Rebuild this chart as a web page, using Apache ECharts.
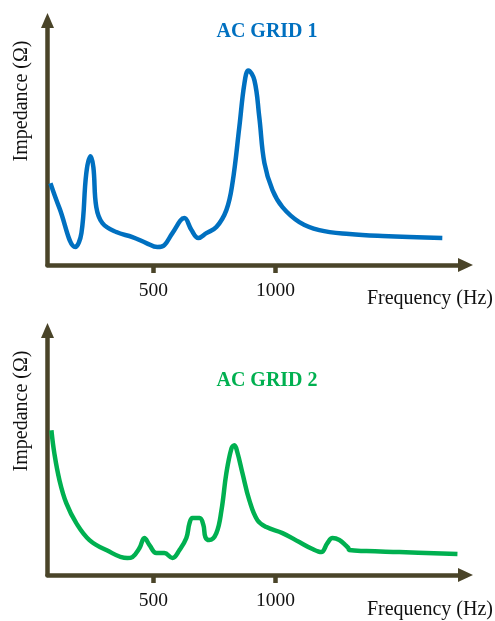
<!DOCTYPE html>
<html>
<head>
<meta charset="utf-8">
<script src="https://cdn.jsdelivr.net/npm/echarts@6/dist/echarts.min.js"></script>
<style>html,body{margin:0;padding:0;background:#fff}#c{width:495px;height:621px}</style>
</head>
<body>
<div id="c"></div>
<script>
// Chart 1: AC GRID 1 (frequency in Hz, impedance in arbitrary units)
var freq1 = [78,115,180,205,225,242,254,266,291,348,414,471,516,545,578,627,656,684,717,758,799,824,852,873,889,914,934,955,988,1029,1098,1180,1303,1438,1684];
var imp1  = [8.2,5.7,1.8,3.2,9.2,10.9,9.8,5.8,4.2,3.3,2.8,2.2,1.8,2.0,3.2,4.7,3.5,2.7,3.2,3.8,5.5,8.2,13.8,18.2,19.5,18.5,14.8,10.2,7.5,5.8,4.3,3.5,3.1,2.9,2.7];
// Chart 2: AC GRID 2
var freq2 = [82,94,115,143,184,238,307,393,414,443,463,484,512,545,578,607,635,648,660,689,705,713,729,758,779,799,820,832,844,865,893,926,963,1029,1098,1152,1188,1213,1234,1262,1291,1299,1302,1373,1508,1746];
var imp2  = [14.5,12.2,9.5,7.2,5.2,3.5,2.5,1.7,1.8,2.7,3.7,3.0,2.2,2.2,1.7,2.5,3.7,5.2,5.7,5.7,5.0,3.8,3.5,4.2,6.5,10.2,12.7,13.0,12.3,10.2,7.5,5.5,4.8,4.2,3.3,2.6,2.3,3.2,3.7,3.5,2.9,2.7,2.5,2.4,2.3,2.1];
var xTicks = [500, 1000];
var titles = ['AC GRID 1', 'AC GRID 2'];
var xName = 'Frequency (Hz)';
var yName = 'Impedance (Ω)';

var AX = '#4a4429';
var FONT = '"Liberation Serif", "Times New Roman", serif';

function pairs(xs, ys){ return xs.map(function(x,i){ return [x, ys[i]]; }); }

function xAxisOf(gi){
  return {
    type:'value', gridIndex:gi, min:66, max:1779,
    axisLine:{show:true, symbol:['none','triangle'], symbolSize:[14,15], lineStyle:{color:AX, width:4.5}},
    axisTick:{show:true, customValues:xTicks, length:8, lineStyle:{color:AX, width:4.5}},
    axisLabel:{show:true, customValues:xTicks, margin:16, color:'#111', fontFamily:FONT, fontSize:19.5,
               formatter:function(v){ return String(v); }},
    splitLine:{show:false}
  };
}
function yAxisOf(gi){
  return {
    type:'value', gridIndex:gi, min:0, max:24.5,
    axisLine:{show:true, onZero:false, symbol:['none','triangle'], symbolSize:[13,15], lineStyle:{color:AX, width:4.5}},
    axisTick:{show:false}, axisLabel:{show:false}, splitLine:{show:false}
  };
}

var chart = echarts.init(document.getElementById('c'), null, {renderer:'canvas'});
chart.setOption({
  animation:false,
  grid:[
    {left:47.5, top:20.5, width:418, height:244.5},
    {left:47.5, top:330.5, width:418, height:244.5}
  ],
  xAxis:[xAxisOf(0), xAxisOf(1)],
  yAxis:[yAxisOf(0), yAxisOf(1)],
  series:[
    {type:'line', xAxisIndex:0, yAxisIndex:0, data:pairs(freq1, imp1), smooth:0.4, showSymbol:false,
     lineStyle:{color:'#0070C0', width:4.5}, z:1},
    {type:'line', xAxisIndex:1, yAxisIndex:1, data:pairs(freq2, imp2), smooth:0.4, showSymbol:false,
     lineStyle:{color:'#00B050', width:4.5}, z:1}
  ],
  graphic:[
    {type:'text', x:267, y:32, style:{text:titles[0], fill:'#0070C0', font:'bold 20px '+FONT, align:'center', verticalAlign:'middle'}},
    {type:'text', x:267, y:381, style:{text:titles[1], fill:'#00B050', font:'bold 20px '+FONT, align:'center', verticalAlign:'middle'}},
    {type:'text', x:493, y:299, style:{text:xName, fill:'#111', font:'20px '+FONT, align:'right', verticalAlign:'middle'}},
    {type:'text', x:493, y:610, style:{text:xName, fill:'#111', font:'20px '+FONT, align:'right', verticalAlign:'middle'}},
    {type:'text', x:22, y:101, rotation:Math.PI/2, style:{text:yName, fill:'#111', font:'20px '+FONT, align:'center', verticalAlign:'middle'}},
    {type:'text', x:22, y:411, rotation:Math.PI/2, style:{text:yName, fill:'#111', font:'20px '+FONT, align:'center', verticalAlign:'middle'}}
  ]
});
</script>
</body>
</html>
